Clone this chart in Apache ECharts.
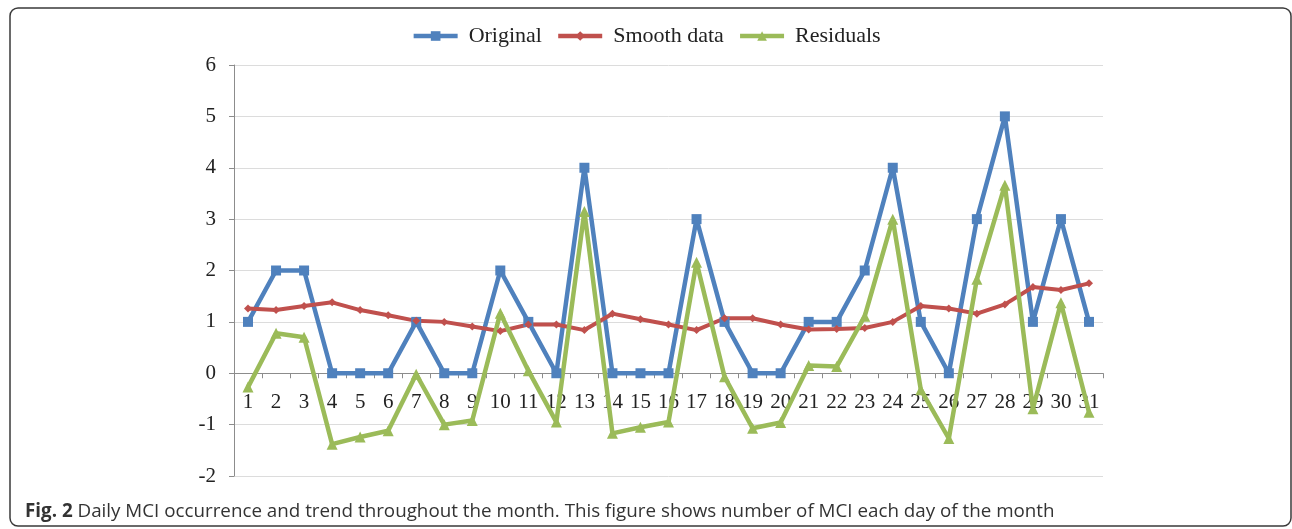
<!DOCTYPE html>
<html>
<head>
<meta charset="utf-8">
<script src="https://cdn.jsdelivr.net/npm/echarts@6/dist/echarts.min.js"></script>
<style>
  html, body { margin: 0; padding: 0; background: #fff; }
  #chart { width: 1292px; height: 529px; }
</style>
</head>
<body>
<div id="chart"></div>
<script>
// day of month
var days = ['1','2','3','4','5','6','7','8','9','10','11','12','13','14','15','16',
            '17','18','19','20','21','22','23','24','25','26','27','28','29','30','31'];
// daily MCI count
var original = [1, 2, 2, 0, 0, 0, 1, 0, 0, 2, 1, 0, 4, 0, 0, 0,
                3, 1, 0, 0, 1, 1, 2, 4, 1, 0, 3, 5, 1, 3, 1];
// trend line
var smoothData = [1.26, 1.23, 1.31, 1.38, 1.23, 1.13, 1.02, 1.0, 0.91, 0.82, 0.95, 0.95, 0.84, 1.16, 1.05, 0.95,
                  0.84, 1.07, 1.07, 0.95, 0.85, 0.86, 0.88, 1.0, 1.31, 1.26, 1.16, 1.34, 1.68, 1.62, 1.75];
// original minus trend
var residuals = [-0.27, 0.78, 0.7, -1.38, -1.24, -1.12, -0.02, -1.0, -0.92, 1.17, 0.05, -0.95, 3.15, -1.17, -1.05, -0.95,
                 2.16, -0.07, -1.07, -0.96, 0.15, 0.13, 1.11, 3.0, -0.32, -1.27, 1.83, 3.66, -0.69, 1.37, -0.76];
var yTicks = [-2, 6, 1]; // min, max, step

var chart = echarts.init(document.getElementById('chart'));

var serif = 'Liberation Serif';
var caption = 'Daily MCI occurrence and trend throughout the month. This figure shows number of MCI each day of the month';

chart.setOption({
  animation: false,
  backgroundColor: '#fff',
  legend: {
    top: 20,
    left: 'center',
    itemWidth: 44,
    itemHeight: 12,
    itemGap: 14,
    lineStyle: { width: 4.5 },
    textStyle: { fontFamily: serif, fontSize: 22, color: '#222', padding: [0, 0, 0, 6] },
    data: ['Original', 'Smooth data', 'Residuals']
  },
  grid: { left: 234, right: 189, top: 65, bottom: 53 },
  xAxis: {
    type: 'category',
    data: days,
    axisLine: { onZero: true, lineStyle: { color: '#8c8c8c', width: 1 } },
    axisTick: { show: true, length: 5, lineStyle: { color: '#8c8c8c' } },
    // labels sit just under the zero line, inside the plot
    axisLabel: { fontFamily: serif, fontSize: 21, color: '#222', margin: -84, interval: 0 }
  },
  yAxis: {
    type: 'value',
    min: yTicks[0],
    max: yTicks[1],
    interval: yTicks[2],
    axisLine: { show: true, lineStyle: { color: '#8c8c8c', width: 1 } },
    axisTick: { show: true, length: 5, lineStyle: { color: '#8c8c8c' } },
    axisLabel: { fontFamily: serif, fontSize: 21, color: '#222', margin: 18 },
    splitLine: { lineStyle: { color: '#dcdcdc', width: 1 } }
  },
  series: [
    {
      name: 'Original', type: 'line', data: original,
      symbol: 'rect', symbolSize: 10,
      itemStyle: { color: '#4F81BD' },
      lineStyle: { color: '#4F81BD', width: 4.5 }
    },
    {
      name: 'Smooth data', type: 'line', data: smoothData,
      symbol: 'diamond', symbolSize: 8,
      itemStyle: { color: '#C0504D' },
      lineStyle: { color: '#C0504D', width: 4 }
    },
    {
      name: 'Residuals', type: 'line', data: residuals,
      symbol: 'triangle', symbolSize: 11,
      itemStyle: { color: '#9BBB59' },
      lineStyle: { color: '#9BBB59', width: 4.5 }
    }
  ],
  graphic: [
    {
      type: 'rect',
      shape: { x: 10, y: 8, width: 1281, height: 518, r: 8 },
      style: { fill: 'none', stroke: '#3a3a3a', lineWidth: 1.5 },
      silent: true
    },
    {
      type: 'text',
      left: 25,
      top: 502,
      style: {
        text: '{b|Fig. 2} ' + caption,
        font: '18.8px "Open Sans"',
        fill: '#333',
        rich: {
          b: { fontWeight: 'bold', fontFamily: 'Open Sans', fontSize: 18.8, fill: '#333' }
        }
      }
    }
  ]
});
</script>
</body>
</html>
